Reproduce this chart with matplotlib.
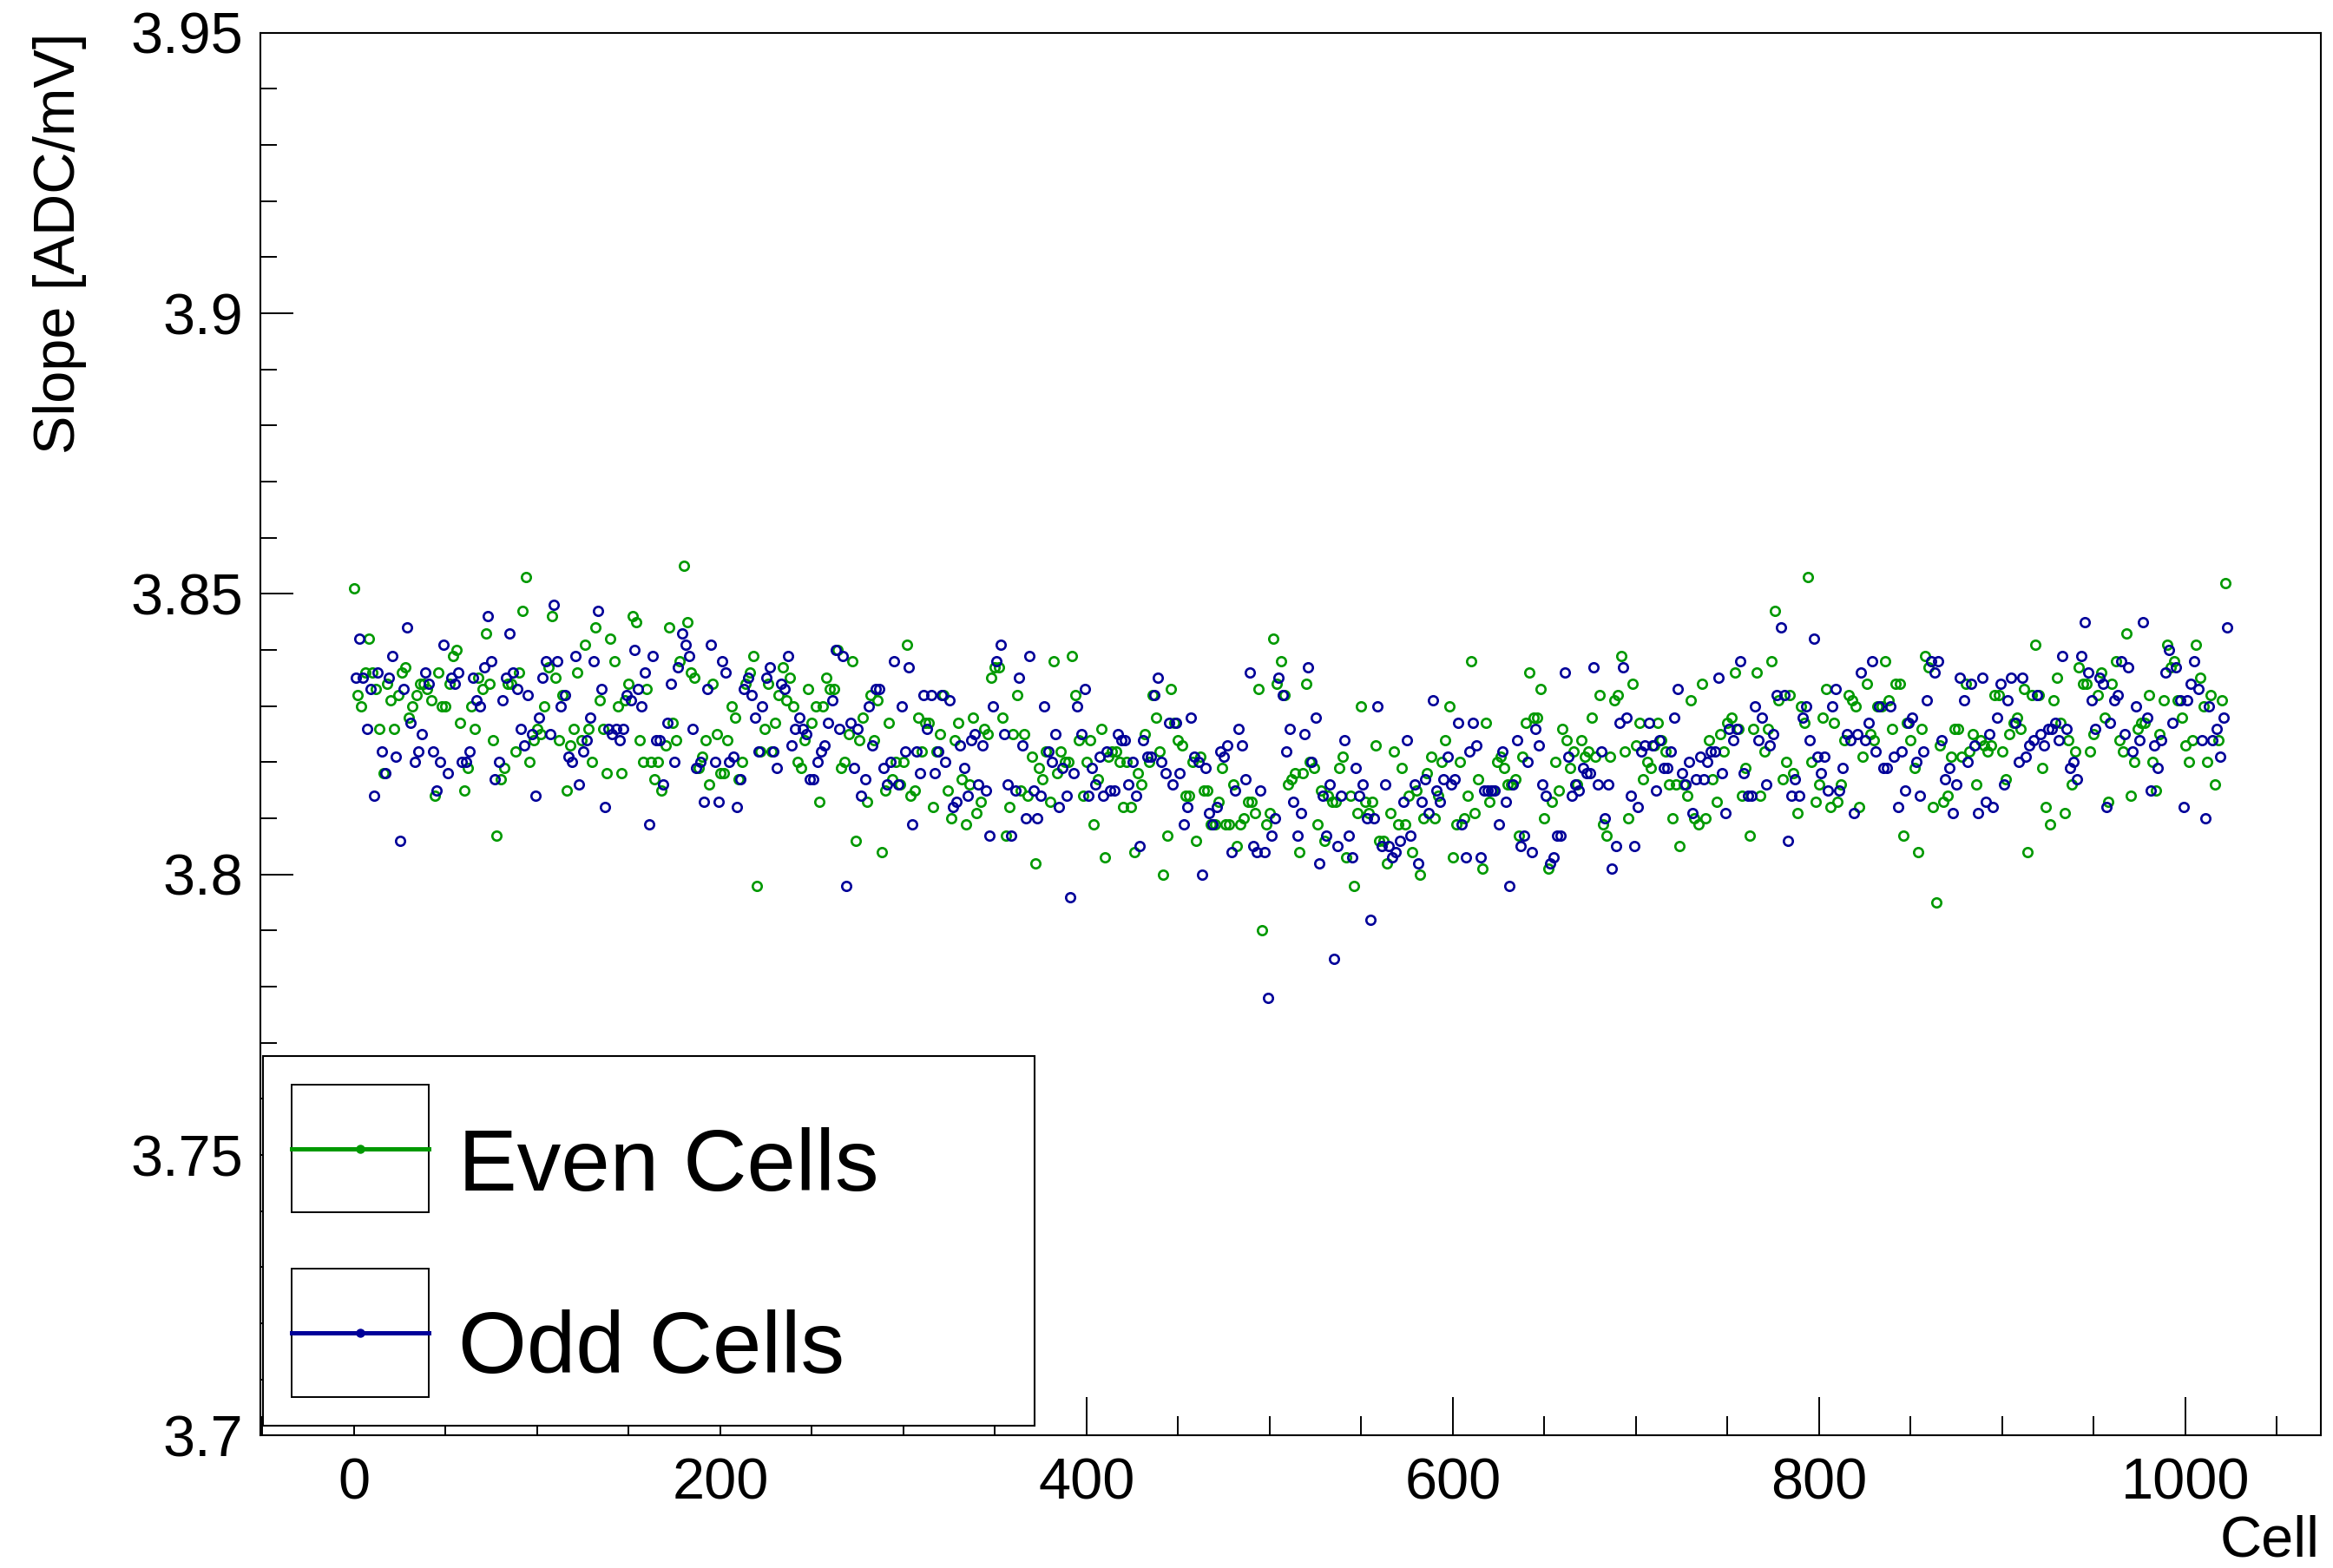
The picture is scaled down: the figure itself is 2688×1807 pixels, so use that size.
import numpy as np
import matplotlib
matplotlib.use("Agg")
import matplotlib.pyplot as plt
from matplotlib.patches import Rectangle
from matplotlib.lines import Line2D
from matplotlib.ticker import FixedLocator, MultipleLocator

# ---------------- data ----------------
even_slope = [
 3.851,3.832,3.830,3.836,3.842,3.836,3.833,3.826,3.818,3.834,
 3.831,3.826,3.832,3.836,3.837,3.828,3.830,3.832,3.834,3.834,
 3.833,3.831,3.814,3.836,3.830,3.830,3.834,3.839,3.840,3.827,
 3.815,3.819,3.830,3.826,3.835,3.833,3.843,3.834,3.824,3.807,
 3.817,3.819,3.834,3.834,3.822,3.836,3.847,3.853,3.820,3.824,
 3.826,3.825,3.830,3.837,3.846,3.835,3.824,3.832,3.815,3.823,
 3.826,3.836,3.824,3.841,3.826,3.820,3.844,3.831,3.826,3.818,
 3.842,3.838,3.830,3.818,3.831,3.834,3.846,3.845,3.824,3.820,
 3.833,3.820,3.817,
 3.820,3.815,3.823,3.844,3.827,3.824,3.838,3.855,3.845,3.836,
 3.835,3.819,3.821,3.824,3.816,3.834,3.825,3.818,3.818,3.824,
 3.830,3.828,3.817,3.820,3.834,3.836,3.839,3.798,3.822,3.826,
 3.834,3.822,3.827,3.832,3.837,3.831,3.835,3.830,3.820,3.819,
 3.824,3.833,
 3.827,3.830,3.813,3.830,3.835,3.833,3.833,3.840,3.819,3.820,
 3.825,3.838,3.806,3.824,3.828,3.813,3.832,3.824,3.831,3.804,
 3.815,3.827,3.817,3.820,3.816,3.820,3.841,3.814,3.815,3.828,
 3.822,3.827,3.827,3.812,3.822,3.825,3.832,3.815,3.810,3.824,
 3.827,3.817,3.809,
 3.816,3.828,3.811,3.813,3.826,3.825,3.835,3.837,3.837,3.828,
 3.807,3.812,3.825,3.832,3.815,3.825,3.814,3.821,3.802,3.819,
 3.817,3.822,3.813,3.838,3.818,3.822,3.820,3.820,3.839,3.832,
 3.824,3.814,3.820,3.824,3.809,3.817,3.826,3.803,3.821,3.822,
 3.822,3.820,3.812,
 3.820,3.812,3.804,3.818,3.816,3.825,3.820,3.832,3.828,3.822,
 3.800,3.807,3.833,3.827,3.824,3.823,3.814,3.814,3.820,3.806,
 3.821,3.815,3.815,3.809,3.809,3.813,3.819,3.809,3.809,3.816,
 3.805,3.809,3.810,3.813,3.813,3.811,3.833,3.790,3.809,3.811,
 3.842,3.834,
 3.838,3.832,3.816,3.817,3.818,3.804,3.818,3.834,3.820,3.819,
 3.809,3.815,3.806,3.814,3.813,3.813,3.819,3.821,3.803,3.814,
 3.798,3.811,3.830,3.813,3.811,3.813,3.823,3.806,3.806,3.802,
 3.811,3.822,3.809,3.819,3.809,3.814,3.804,3.815,3.800,3.810,
 3.818,3.821,3.810,
 3.814,3.820,3.824,3.830,3.803,3.809,3.820,3.810,3.814,3.838,
 3.811,3.817,3.801,3.827,3.813,3.815,3.820,3.821,3.819,3.816,
 3.816,3.817,3.807,3.821,3.827,3.836,3.828,3.828,3.833,3.810,
 3.801,3.813,3.820,3.815,3.826,3.824,3.819,3.822,3.816,3.824,
 3.821,3.822,3.828,
 3.821,3.832,3.809,3.807,3.821,3.831,3.832,3.839,3.822,3.810,
 3.834,3.823,3.827,3.817,3.820,3.819,3.823,3.827,3.824,3.822,
 3.816,3.810,3.816,3.805,3.816,3.814,3.831,3.810,3.809,3.834,
 3.810,3.824,3.817,3.813,3.825,3.822,3.827,3.828,3.836,3.826,
 3.814,3.819,
 3.807,3.826,3.836,3.814,3.822,3.826,3.838,3.847,3.831,3.817,
 3.820,3.832,3.818,3.811,3.830,3.827,3.853,3.820,3.813,3.816,
 3.828,3.833,3.812,3.827,3.813,3.816,3.824,3.832,3.831,3.830,
 3.812,3.821,3.834,3.825,3.824,3.830,3.830,3.838,3.831,3.826,
 3.834,3.834,3.807,
 3.827,3.824,3.819,3.804,3.826,3.839,3.837,3.812,3.795,3.823,
 3.813,3.814,3.821,3.826,3.826,3.821,3.834,3.822,3.825,3.816,
 3.824,3.823,3.822,3.823,3.832,3.832,3.822,3.817,3.825,3.827,
 3.828,3.826,3.833,3.804,3.832,3.841,3.832,3.819,3.812,3.809,
 3.831,3.835,
 3.827,3.811,3.824,3.816,3.822,3.837,3.834,3.834,3.822,3.825,
 3.832,3.836,3.828,3.813,3.834,3.838,3.824,3.822,3.843,3.814,
 3.820,3.826,3.827,3.827,3.832,3.820,3.815,3.825,3.831,3.841,
 3.837,3.838,3.831,3.828,3.823,3.820,3.824,3.841,3.835,3.830,
 3.820,3.832,3.816,3.824,3.831,3.852,
]

odd_slope = [
 3.835,3.842,3.835,3.826,3.833,3.814,3.836,3.822,3.818,3.835,
 3.839,3.821,3.806,3.833,3.844,3.827,3.820,3.822,3.825,3.836,
 3.834,3.822,3.815,3.820,3.841,3.818,3.835,3.834,3.836,3.820,
 3.820,3.822,3.835,3.831,3.830,3.837,3.846,3.838,3.817,3.820,
 3.831,3.835,3.843,3.836,3.833,3.826,3.823,3.832,3.825,3.814,
 3.828,3.835,3.838,3.825,3.848,3.838,3.830,3.832,3.821,3.820,
 3.839,3.816,3.822,3.824,3.828,3.838,3.847,3.833,3.812,3.826,
 3.825,3.826,3.824,3.826,3.832,3.831,3.840,3.833,3.830,3.836,
 3.809,3.839,3.824,
 3.824,3.816,3.827,3.834,3.820,3.837,3.843,3.841,3.839,3.826,
 3.819,3.820,3.813,3.833,3.841,3.820,3.813,3.838,3.836,3.820,
 3.821,3.812,3.817,3.833,3.835,3.832,3.828,3.822,3.830,3.835,
 3.837,3.822,3.819,3.834,3.833,3.839,3.823,3.826,3.828,3.826,
 3.825,3.817,
 3.817,3.820,3.822,3.823,3.827,3.831,3.840,3.826,3.839,3.798,
 3.827,3.819,3.826,3.814,3.817,3.830,3.823,3.833,3.833,3.819,
 3.816,3.820,3.838,3.816,3.830,3.822,3.837,3.809,3.822,3.818,
 3.832,3.826,3.832,3.818,3.822,3.832,3.820,3.831,3.812,3.813,
 3.823,3.819,3.814,
 3.824,3.825,3.816,3.823,3.815,3.807,3.830,3.838,3.841,3.825,
 3.816,3.807,3.815,3.835,3.823,3.810,3.839,3.815,3.810,3.814,
 3.830,3.822,3.820,3.825,3.812,3.819,3.814,3.796,3.818,3.830,
 3.825,3.833,3.814,3.819,3.816,3.821,3.814,3.822,3.815,3.815,
 3.825,3.824,3.824,
 3.816,3.820,3.814,3.805,3.824,3.821,3.821,3.832,3.835,3.820,
 3.818,3.827,3.816,3.827,3.818,3.809,3.812,3.828,3.821,3.820,
 3.800,3.819,3.811,3.809,3.812,3.822,3.821,3.823,3.804,3.815,
 3.826,3.823,3.817,3.836,3.805,3.804,3.815,3.804,3.778,3.807,
 3.810,3.835,
 3.832,3.822,3.826,3.813,3.807,3.811,3.825,3.837,3.820,3.828,
 3.802,3.814,3.807,3.816,3.785,3.805,3.814,3.824,3.807,3.803,
 3.819,3.814,3.816,3.810,3.792,3.810,3.830,3.805,3.816,3.805,
 3.803,3.804,3.806,3.813,3.824,3.807,3.816,3.802,3.813,3.817,
 3.811,3.831,3.815,
 3.813,3.817,3.821,3.816,3.817,3.827,3.809,3.803,3.822,3.827,
 3.823,3.803,3.815,3.815,3.815,3.815,3.809,3.822,3.813,3.798,
 3.816,3.824,3.805,3.807,3.820,3.804,3.826,3.823,3.816,3.814,
 3.802,3.803,3.807,3.807,3.836,3.821,3.814,3.816,3.815,3.819,
 3.818,3.818,3.837,
 3.816,3.822,3.810,3.816,3.801,3.805,3.827,3.837,3.828,3.814,
 3.805,3.812,3.822,3.823,3.827,3.823,3.815,3.824,3.819,3.819,
 3.822,3.828,3.833,3.818,3.816,3.820,3.811,3.817,3.821,3.817,
 3.820,3.822,3.822,3.835,3.818,3.811,3.826,3.824,3.826,3.838,
 3.818,3.814,
 3.814,3.830,3.824,3.828,3.816,3.823,3.825,3.832,3.844,3.832,
 3.806,3.814,3.817,3.814,3.828,3.830,3.824,3.842,3.821,3.818,
 3.821,3.815,3.830,3.833,3.815,3.819,3.825,3.824,3.811,3.825,
 3.836,3.824,3.827,3.838,3.822,3.830,3.819,3.819,3.830,3.821,
 3.812,3.822,3.815,
 3.827,3.828,3.820,3.814,3.822,3.831,3.838,3.836,3.838,3.824,
 3.817,3.819,3.811,3.816,3.835,3.831,3.820,3.834,3.823,3.811,
 3.835,3.813,3.825,3.812,3.828,3.834,3.816,3.831,3.835,3.827,
 3.820,3.835,3.821,3.823,3.824,3.832,3.825,3.823,3.826,3.826,
 3.827,3.824,
 3.839,3.826,3.819,3.820,3.817,3.839,3.845,3.836,3.831,3.826,
 3.835,3.834,3.812,3.827,3.831,3.832,3.838,3.825,3.837,3.822,
 3.830,3.824,3.845,3.828,3.815,3.823,3.819,3.824,3.836,3.840,
 3.827,3.837,3.831,3.812,3.831,3.834,3.838,3.833,3.824,3.810,
 3.830,3.824,3.826,3.821,3.828,3.844,
]

even_cells = np.arange(0, 2 * len(even_slope), 2)
odd_cells = np.arange(1, 2 * len(odd_slope) + 1, 2)

series_labels = ["Even Cells", "Odd Cells"]
series_colors = ["#009900", "#000099"]

x_ticks = [0, 200, 400, 600, 800, 1000]
x_tick_labels = ["0", "200", "400", "600", "800", "1000"]
y_ticks = [3.7, 3.75, 3.8, 3.85, 3.9, 3.95]
y_tick_labels = ["3.7", "3.75", "3.8", "3.85", "3.9", "3.95"]

# ---------------- figure ----------------
plt.rcParams["font.family"] = ["Liberation Sans", "DejaVu Sans"]

fig = plt.figure(figsize=(26.88, 18.07), dpi=100)
ax = fig.add_axes([0.1116, 0.0844, 0.8833, 0.8947])

for cells, vals, col in [(even_cells, even_slope, series_colors[0]),
                         (odd_cells, odd_slope, series_colors[1])]:
    ax.plot(cells, vals, linestyle="none", marker="o", markerfacecolor="none",
            markeredgecolor=col, markersize=7.5, markeredgewidth=1.9, zorder=3)

ax.set_xlim(-51.15, 1074.15)
ax.set_ylim(3.7, 3.95)

ax.xaxis.set_major_locator(FixedLocator(x_ticks))
ax.set_xticklabels(x_tick_labels)
ax.xaxis.set_minor_locator(MultipleLocator(50))
ax.yaxis.set_major_locator(FixedLocator(y_ticks))
ax.set_yticklabels(y_tick_labels)
ax.yaxis.set_minor_locator(MultipleLocator(0.01))

ax.tick_params(axis="both", which="both", direction="in", top=False, right=False,
               width=1.4, labelsize=48)
ax.tick_params(axis="x", which="major", length=32, pad=18)
ax.tick_params(axis="x", which="minor", length=16)
ax.tick_params(axis="y", which="major", length=27, pad=14)
ax.tick_params(axis="y", which="minor", length=14)
for sp in ax.spines.values():
    sp.set_linewidth(1.5)

fig.text(0.0255, 0.979, "Slope [ADC/mV]", rotation=90, ha="center", va="top", fontsize=48)
fig.text(0.9943, 0.017, "Cell", ha="right", va="center", fontsize=48)

# ---------------- ROOT-style legend ----------------
ax.add_patch(Rectangle((0.0014, 0.0074), 0.3741, 0.263, transform=ax.transAxes,
                       facecolor="white", edgecolor="black", linewidth=1.5, zorder=5))
entry_y = [0.2047, 0.0732]
text_base = [0.175, 0.045]
for lab, col, ly, tb in zip(series_labels, series_colors, entry_y, text_base):
    ax.add_patch(Rectangle((0.0152, ly - 0.0457), 0.0664, 0.0914, transform=ax.transAxes,
                           facecolor="white", edgecolor="black", linewidth=1.4, zorder=6))
    ax.add_line(Line2D([0.0152, 0.0816], [ly, ly], transform=ax.transAxes,
                       color=col, linewidth=3.6, zorder=7))
    ax.add_line(Line2D([0.0484], [ly], transform=ax.transAxes, marker="o",
                       markersize=6.5, color=col, linestyle="none", zorder=8))
    ax.text(0.096, tb, lab, transform=ax.transAxes, fontsize=73,
            ha="left", va="baseline", zorder=8)

fig.savefig("out.png", dpi=100)
